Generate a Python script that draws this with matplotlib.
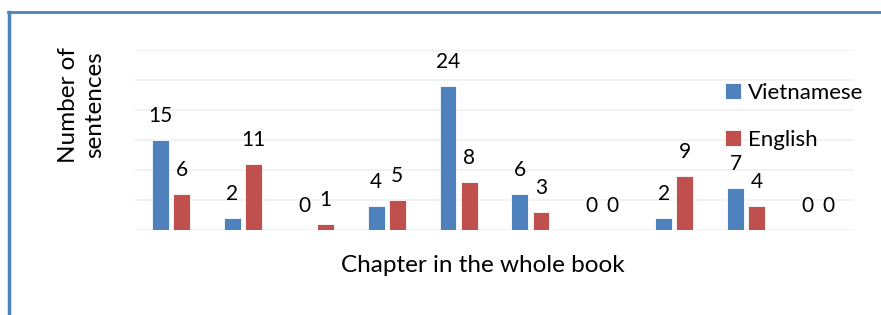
import numpy as np
import matplotlib
matplotlib.use("Agg")
import matplotlib.pyplot as plt
from matplotlib.lines import Line2D

chapters = ["1", "2", "3", "4", "5", "6", "7", "8", "9", "10"]
vietnamese = [15, 2, 0, 4, 24, 6, 0, 2, 7, 0]
english = [6, 11, 1, 5, 8, 3, 0, 9, 4, 0]

plt.rcParams['font.family'] = ['Lato', 'DejaVu Sans']

fig = plt.figure(figsize=(8.81, 3.15), dpi=100)
W, H = 881, 315
ax = fig.add_axes([135 / W, 85 / H, (854 - 135) / W, (230 - 50) / H])

blue = "#4f81bd"
red = "#c0504d"
x = np.arange(len(chapters))
w = 0.235
off = 0.147

b1 = ax.bar(x - off, vietnamese, w, color=blue, edgecolor="white", linewidth=0.6, label="Vietnamese", zorder=3)
b2 = ax.bar(x + off, english, w, color=red, edgecolor="white", linewidth=0.6, label="English", zorder=3)

for bars, vals in [(b1, vietnamese), (b2, english)]:
    for bar, v in zip(bars, vals):
        ax.annotate(str(v), (bar.get_x() + bar.get_width() / 2, v),
                    xytext=(0, 17.5), textcoords="offset points",
                    ha="center", va="center", fontsize=15)

ax.set_xlim(-0.5, len(chapters) - 0.5)
ax.set_ylim(0, 30)
ax.set_yticks(range(0, 31, 5))
ax.yaxis.grid(True, color="#f0f0f0", linewidth=1.2, zorder=0)
ax.set_xticks([])
ax.tick_params(left=False, labelleft=False)
for s in ax.spines.values():
    s.set_visible(False)

fig.text(483 / W, 1 - 266 / H, "Chapter in the whole book", ha="center", va="center", fontsize=17.5)
fig.text(82 / W, 1 - 105 / H, "Number of\nsentences", ha="center", va="center",
         rotation=90, fontsize=17.5, linespacing=1.3)

leg = fig.legend(handles=[b1, b2], loc="upper left", bbox_to_anchor=(725 / W, 1 - 83 / H),
                 frameon=False, fontsize=16, handlelength=0.7, handleheight=0.7,
                 handletextpad=0.35, labelspacing=1.2, borderpad=0, borderaxespad=0)

# blue frame around the chart
fig.add_artist(Line2D([8 / W, 1], [1 - 12 / H, 1 - 12 / H], color=blue, linewidth=2, transform=fig.transFigure))
fig.add_artist(Line2D([9 / W, 9 / W], [0, 1 - 12 / H], color=blue, linewidth=2.5, transform=fig.transFigure))

fig.savefig("out.png", dpi=100)
